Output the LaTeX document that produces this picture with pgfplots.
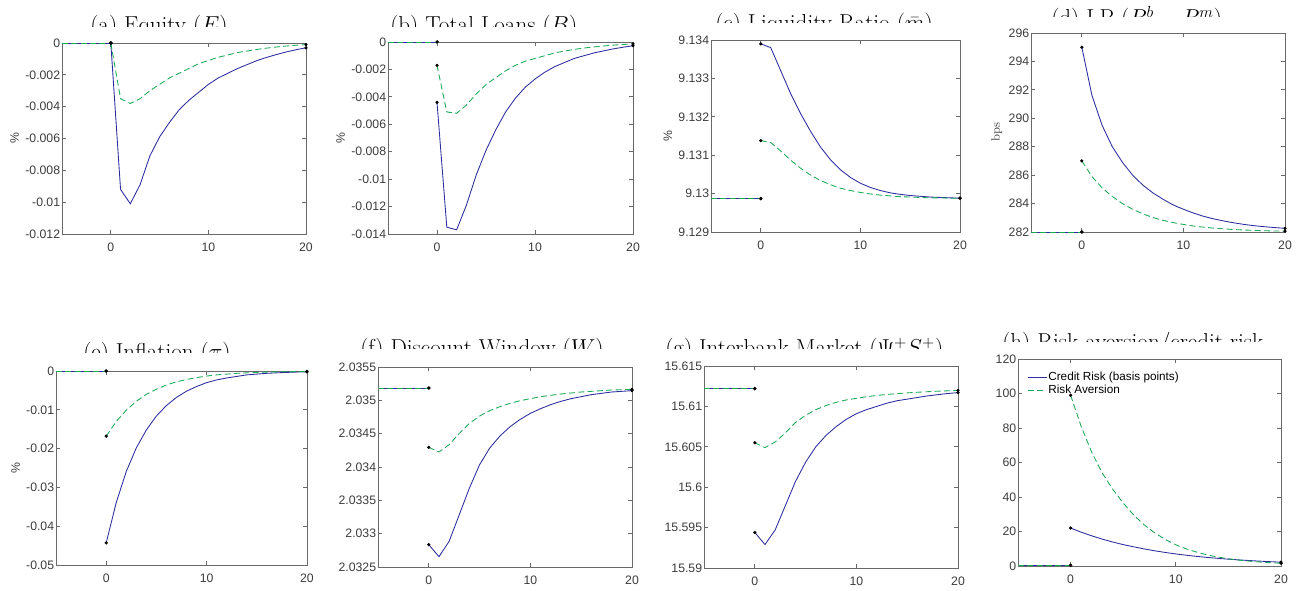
\documentclass[border=0pt]{standalone}
\usepackage{fontspec}
\usepackage{pgfplots}
\pgfplotsset{compat=1.18}
\newfontfamily\arialf{Liberation Sans}
\definecolor{bl}{RGB}{45,45,160}
\definecolor{gr}{RGB}{25,170,85}
\definecolor{axcol}{RGB}{105,105,105}
\definecolor{labcol}{RGB}{60,60,60}
\newcommand\tickfont{\arialf\fontsize{9.2}{11}\selectfont}
\newcommand\legfont{\arialf\fontsize{8.8}{10.5}\selectfont}
\newcommand\titfont{\fontsize{17.3}{20}\selectfont}
\pgfplotsset{
 irf/.style={scale only axis, anchor=north west, xmin=-5, xmax=20,
  xtick={0,10,20}, xticklabels={0,10,20},
  axis line style={axcol, line width=0.6pt},
  tick style={axcol, line width=0.6pt},
  major tick length=3pt, tick align=inside,
  ticklabel style={font=\tickfont, text=labcol},
  xticklabel style={yshift=-3pt},
  yticklabel style={inner sep=1.2pt},
  ylabel style={font=\tickfont, text=labcol},
  clip=false, scaled ticks=false},
 bline/.style={color=bl, line width=0.65pt, mark=*, mark indices={1,21}, mark options={black, solid, mark size=0.85pt}},
 gline/.style={color=gr, line width=0.65pt, dash pattern=on 4.5pt off 2.5pt, mark=*, mark indices={1,21}, mark options={black, solid, mark size=0.85pt}},
 bpre/.style={color=bl, line width=0.65pt, mark=*, mark indices={2}, mark options={black, solid, mark size=0.85pt}, forget plot},
 gpre/.style={color=gr, line width=0.65pt, dash pattern=on 4.5pt off 2.5pt, mark=*, mark indices={2}, mark options={black, solid, mark size=0.85pt}, forget plot},
}
\begin{document}
\begin{tikzpicture}
\useasboundingbox (0pt,0pt) rectangle (976.5pt,-443.25pt);
% ---------- titles (clipped at bottom like the reference) ----------
\begin{scope}\clip (40pt,0pt) rectangle (245pt,-20.25pt);
\node[anchor=base west, inner sep=0pt] at (67.5pt,-24.5pt) {\titfont (a) Equity ($E$)};\end{scope}
\begin{scope}\clip (270pt,0pt) rectangle (490pt,-20.25pt);
\node[anchor=base west, inner sep=0pt] at (292.5pt,-24.5pt) {\titfont (b) Total Loans ($B$)};\end{scope}
\begin{scope}\clip (510pt,0pt) rectangle (730pt,-17.25pt);
\node[anchor=base west, inner sep=0pt] at (536.25pt,-23pt) {\titfont (c) Liquidity Ratio ($\bar{m}$)};\end{scope}
\begin{scope}\clip (760pt,0pt) rectangle (976pt,-12.75pt);
\node[anchor=base west, inner sep=0pt] at (788.25pt,-19.5pt) {\titfont (d) LP ($R^b - R^m$)};\end{scope}
\begin{scope}\clip (40pt,-240pt) rectangle (245pt,-264.75pt);
\node[anchor=base west, inner sep=0pt] at (62.25pt,-269.75pt) {\titfont (e) Inflation ($\pi$)};\end{scope}
\begin{scope}\clip (250pt,-240pt) rectangle (490pt,-261.75pt);
\node[anchor=base west, inner sep=0pt] at (270pt,-266.75pt) {\titfont (f) Discount Window ($W$)};\end{scope}
\begin{scope}\clip (490pt,-240pt) rectangle (745pt,-261.75pt);
\node[anchor=base west, inner sep=0pt] at (498.75pt,-266.75pt) {\titfont (g) Interbank Market ($\Psi^+ S^+$)};\end{scope}
\begin{scope}\clip (745pt,-240pt) rectangle (976.5pt,-256.5pt);
\node[anchor=base west, inner sep=0pt] at (751.5pt,-262.25pt) {\titfont (h) Risk aversion/credit risk};\end{scope}

% ---------- (a) Equity ----------
\begin{axis}[irf, at={(46.5pt,-32.25pt)}, width=183pt, height=143.25pt,
  ymin=-0.012, ymax=0,
  ytick={-0.012,-0.01,-0.008,-0.006,-0.004,-0.002,0},
  yticklabels={-0.012,-0.01,-0.008,-0.006,-0.004,-0.002,0},
  ylabel={\%}]
\addplot[bline] coordinates {(0,0) (1,-0.0092) (2,-0.0101) (3,-0.0089) (4,-0.0071) (5,-0.0059) (6,-0.0050) (7,-0.0042) (8,-0.0036) (9,-0.0031) (10,-0.0026) (11,-0.0022) (12,-0.0019) (13,-0.0016) (14,-0.00135) (15,-0.0011) (16,-0.0009) (17,-0.00072) (18,-0.00056) (19,-0.00042) (20,-0.0003)};
\addplot[gline] coordinates {(0,0) (1,-0.0035) (2,-0.0038) (3,-0.0035) (4,-0.0030) (5,-0.0026) (6,-0.0022) (7,-0.0019) (8,-0.0016) (9,-0.0013) (10,-0.0011) (11,-0.0009) (12,-0.00075) (13,-0.0006) (14,-0.0005) (15,-0.0004) (16,-0.00032) (17,-0.00025) (18,-0.00019) (19,-0.00014) (20,-0.0001)};
\addplot[bpre] coordinates {(-5,0) (0,0)};
\addplot[gpre] coordinates {(-5,0) (0,0)};
\end{axis}

% ---------- (b) Total Loans ----------
\begin{axis}[irf, at={(291pt,-31.5pt)}, width=183.75pt, height=144pt,
  ymin=-0.014, ymax=0,
  ytick={-0.014,-0.012,-0.01,-0.008,-0.006,-0.004,-0.002,0},
  yticklabels={-0.014,-0.012,-0.01,-0.008,-0.006,-0.004,-0.002,0},
  ylabel={\%}]
\addplot[bline] coordinates {(0,-0.0044) (1,-0.0135) (2,-0.0137) (3,-0.0119) (4,-0.0097) (5,-0.0079) (6,-0.0064) (7,-0.0051) (8,-0.0041) (9,-0.0033) (10,-0.0027) (11,-0.0022) (12,-0.0018) (13,-0.0015) (14,-0.0012) (15,-0.001) (16,-0.0008) (17,-0.00065) (18,-0.0005) (19,-0.00038) (20,-0.00027)};
\addplot[gline] coordinates {(0,-0.0017) (1,-0.0051) (2,-0.0052) (3,-0.0046) (4,-0.0038) (5,-0.0031) (6,-0.0026) (7,-0.0021) (8,-0.0017) (9,-0.0014) (10,-0.0012) (11,-0.001) (12,-0.0008) (13,-0.00066) (14,-0.00054) (15,-0.00044) (16,-0.00036) (17,-0.00029) (18,-0.00023) (19,-0.00018) (20,-0.00014)};
\addplot[bpre] coordinates {(-5,0) (0,0)};
\addplot[gpre] coordinates {(-5,0) (0,0)};
\end{axis}

% ---------- (c) Liquidity Ratio ----------
\begin{axis}[irf, at={(533.25pt,-30pt)}, width=186.75pt, height=144pt,
  ymin=9.129, ymax=9.134,
  ytick={9.129,9.13,9.131,9.132,9.133,9.134},
  yticklabels={9.129,9.13,9.131,9.132,9.133,9.134},
  ylabel={\%}]
\addplot[bline] coordinates {(0,9.13390) (1,9.13380) (2,9.13320) (3,9.13260) (4,9.13208) (5,9.13162) (6,9.13121) (7,9.13088) (8,9.13062) (9,9.13042) (10,9.13027) (11,9.13016) (12,9.13008) (13,9.13002) (14,9.12998) (15,9.12995) (16,9.12993) (17,9.12991) (18,9.12990) (19,9.12989) (20,9.12988)};
\addplot[gline] coordinates {(0,9.13138) (1,9.13133) (2,9.13111) (3,9.13087) (4,9.13066) (5,9.13048) (6,9.13034) (7,9.13023) (8,9.13014) (9,9.13008) (10,9.13003) (11,9.12999) (12,9.12996) (13,9.12994) (14,9.12992) (15,9.12991) (16,9.12990) (17,9.12989) (18,9.12989) (19,9.12988) (20,9.12988)};
\addplot[bpre] coordinates {(-5,9.12987) (0,9.12987)};
\addplot[gpre] coordinates {(-5,9.12987) (0,9.12987)};
\end{axis}

% ---------- (d) LP ----------
\begin{axis}[irf, at={(773.25pt,-24.75pt)}, width=190.5pt, height=149.25pt,
  ymin=282, ymax=296,
  ytick={282,284,286,288,290,292,294,296},
  yticklabels={282,284,286,288,290,292,294,296},
  ylabel={bps}, ylabel style={font=\fontsize{9.2}{11}\selectfont}]
\addplot[bline] coordinates {(0,295.0) (1,291.6) (2,289.5) (3,288.0) (4,286.9) (5,286.0) (6,285.3) (7,284.75) (8,284.3) (9,283.9) (10,283.6) (11,283.33) (12,283.1) (13,282.92) (14,282.77) (15,282.64) (16,282.53) (17,282.44) (18,282.37) (19,282.31) (20,282.26)};
\addplot[gline] coordinates {(0,287.0) (1,285.9) (2,285.1) (3,284.5) (4,284.0) (5,283.6) (6,283.28) (7,283.02) (8,282.82) (9,282.66) (10,282.53) (11,282.42) (12,282.34) (13,282.27) (14,282.22) (15,282.17) (16,282.14) (17,282.11) (18,282.09) (19,282.07) (20,282.06)};
\addplot[bpre] coordinates {(-5,282.0) (0,282.0)};
\addplot[gpre] coordinates {(-5,282.0) (0,282.0)};
\end{axis}

% ---------- (e) Inflation ----------
\begin{axis}[irf, at={(42pt,-278.25pt)}, width=188.25pt, height=145.5pt,
  ymin=-0.05, ymax=0,
  ytick={-0.05,-0.04,-0.03,-0.02,-0.01,0},
  yticklabels={-0.05,-0.04,-0.03,-0.02,-0.01,0},
  ylabel={\%}]
\addplot[bline] coordinates {(0,-0.0443) (1,-0.0339) (2,-0.0259) (3,-0.0198) (4,-0.0152) (5,-0.0116) (6,-0.0089) (7,-0.0068) (8,-0.0052) (9,-0.0040) (10,-0.0030) (11,-0.0023) (12,-0.0018) (13,-0.0014) (14,-0.0010) (15,-0.0008) (16,-0.0006) (17,-0.00047) (18,-0.00036) (19,-0.00027) (20,-0.00021)};
\addplot[gline] coordinates {(0,-0.0168) (1,-0.0130) (2,-0.0101) (3,-0.0078) (4,-0.0060) (5,-0.0047) (6,-0.0036) (7,-0.0028) (8,-0.0022) (9,-0.0017) (10,-0.0013) (11,-0.0010) (12,-0.0008) (13,-0.0006) (14,-0.00047) (15,-0.00036) (16,-0.00028) (17,-0.00022) (18,-0.00017) (19,-0.00013) (20,-0.0001)};
\addplot[bpre] coordinates {(-5,0) (0,0)};
\addplot[gpre] coordinates {(-5,0) (0,0)};
\end{axis}

% ---------- (f) Discount Window ----------
\begin{axis}[irf, at={(283.5pt,-275.25pt)}, width=190.5pt, height=150pt,
  ymin=2.0325, ymax=2.0355,
  ytick={2.0325,2.033,2.0335,2.034,2.0345,2.035,2.0355},
  yticklabels={2.0325,2.033,2.0335,2.034,2.0345,2.035,2.0355}]
\addplot[bline] coordinates {(0,2.032835) (1,2.032655) (2,2.032885) (3,2.033285) (4,2.033685) (5,2.034035) (6,2.034285) (7,2.034465) (8,2.034605) (9,2.034715) (10,2.034805) (11,2.034875) (12,2.034935) (13,2.034985) (14,2.035025) (15,2.035055) (16,2.035085) (17,2.035105) (18,2.035125) (19,2.035135) (20,2.035145)};
\addplot[gline] coordinates {(0,2.034295) (1,2.034225) (2,2.034335) (3,2.034505) (4,2.034655) (5,2.034765) (6,2.034845) (7,2.034905) (8,2.034955) (9,2.034995) (10,2.035025) (11,2.035055) (12,2.035075) (13,2.035095) (14,2.035110) (15,2.035125) (16,2.035135) (17,2.035145) (18,2.035155) (19,2.035160) (20,2.035165)};
\addplot[bpre] coordinates {(-5,2.035185) (0,2.035185)};
\addplot[gpre] coordinates {(-5,2.035185) (0,2.035185)};
\end{axis}

% ---------- (g) Interbank Market ----------
\begin{axis}[irf, at={(528pt,-274.5pt)}, width=190.5pt, height=151.5pt,
  ymin=15.59, ymax=15.615,
  ytick={15.59,15.595,15.6,15.605,15.61,15.615},
  yticklabels={15.59,15.595,15.6,15.605,15.61,15.615}]
\addplot[bline] coordinates {(0,15.5944) (1,15.5929) (2,15.5947) (3,15.5977) (4,15.6007) (5,15.6031) (6,15.6050) (7,15.6064) (8,15.6075) (9,15.6084) (10,15.6091) (11,15.6096) (12,15.6100) (13,15.6104) (14,15.6107) (15,15.6109) (16,15.6111) (17,15.6113) (18,15.61145) (19,15.6116) (20,15.6117)};
\addplot[gline] coordinates {(0,15.6055) (1,15.6049) (2,15.6056) (3,15.6067) (4,15.6080) (5,15.6089) (6,15.6096) (7,15.6101) (8,15.6105) (9,15.6108) (10,15.6110) (11,15.6112) (12,15.61135) (13,15.61148) (14,15.61158) (15,15.61167) (16,15.61175) (17,15.61182) (18,15.61188) (19,15.61193) (20,15.61197)};
\addplot[bpre] coordinates {(-5,15.6122) (0,15.6122)};
\addplot[gpre] coordinates {(-5,15.6122) (0,15.6122)};
\end{axis}

% ---------- (h) Risk aversion / credit risk ----------
\begin{axis}[irf, at={(763.5pt,-269.25pt)}, width=197.25pt, height=155.25pt,
  ymin=0, ymax=120,
  ytick={0,20,40,60,80,100,120},
  yticklabels={0,20,40,60,80,100,120},
  legend style={at={(axis description cs:0.035,0.945)}, anchor=north west, draw=none, fill=none,
    font=\legfont, text=black, inner sep=0pt, row sep=0pt, nodes={inner sep=1pt}},
  legend cell align=left,
  legend image code/.code={\draw[#1] (0pt,0pt) -- (14pt,0pt);}]
\addplot[bline] coordinates {(0,22.0) (1,19.6) (2,17.5) (3,15.6) (4,13.9) (5,12.4) (6,11.1) (7,9.9) (8,8.8) (9,7.85) (10,7.0) (11,6.25) (12,5.57) (13,4.97) (14,4.43) (15,3.95) (16,3.53) (17,3.15) (18,2.81) (19,2.5) (20,2.23)};
\addlegendentry{Credit Risk (basis points)}
\addplot[gline] coordinates {(0,99) (1,81) (2,66) (3,54) (4,44.5) (5,36.5) (6,29.5) (7,23.8) (8,19.2) (9,15.4) (10,12.3) (11,9.9) (12,8.0) (13,6.4) (14,5.2) (15,4.2) (16,3.4) (17,2.8) (18,2.3) (19,1.9) (20,1.6)};
\addlegendentry{Risk Aversion}
\addplot[bpre] coordinates {(-5,0.4) (0,0.4)};
\addplot[gpre] coordinates {(-5,0.4) (0,0.4)};
\end{axis}
\end{tikzpicture}
\end{document}
